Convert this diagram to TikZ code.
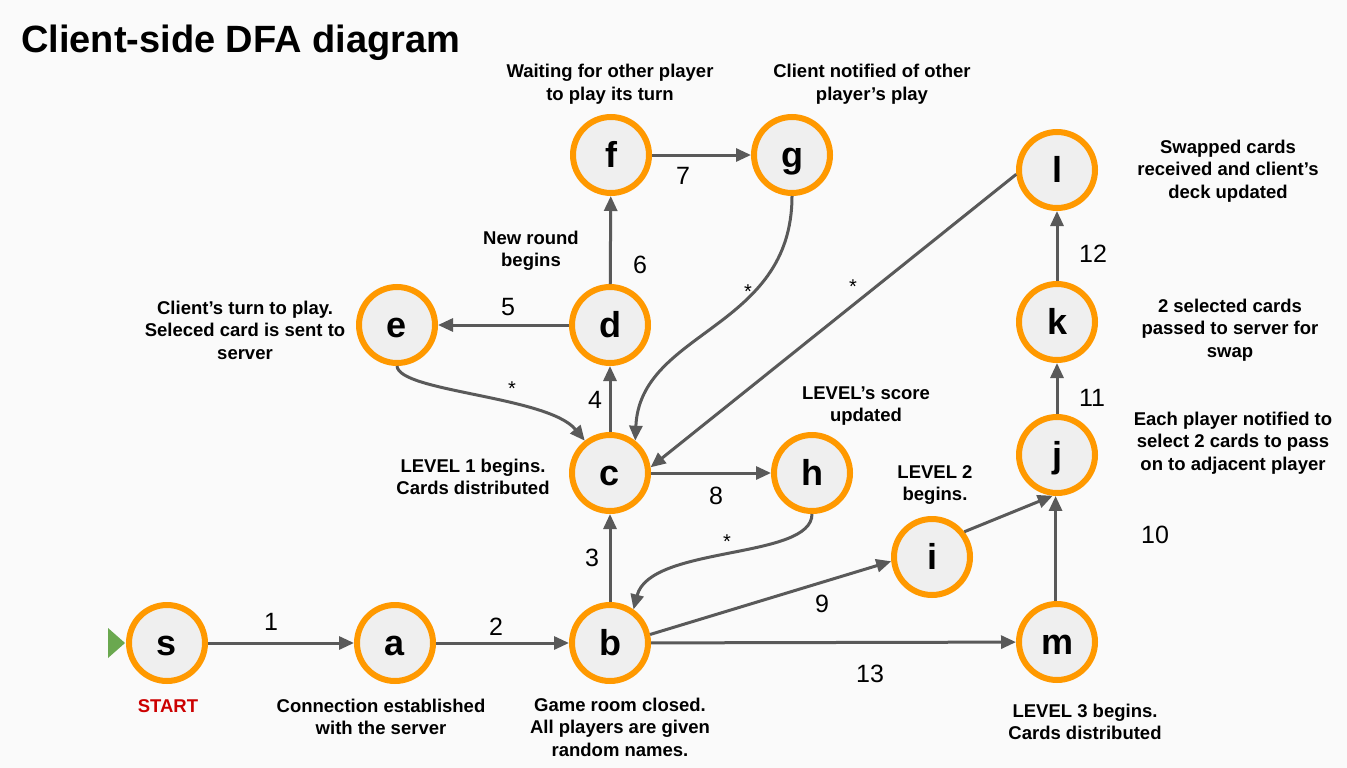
\documentclass[tikz,border=0pt]{standalone}
\usepackage{fontspec}
\setmainfont{Liberation Sans}
\usetikzlibrary{arrows.meta}
\definecolor{bgc}{HTML}{FAFAFA}
\definecolor{orng}{HTML}{FF9900}
\definecolor{nfill}{HTML}{EFEFEF}
\definecolor{edgec}{HTML}{595959}
\definecolor{startgreen}{HTML}{6AA84F}
\definecolor{startred}{HTML}{CC0000}
\begin{document}
\begin{tikzpicture}[x=1pt,y=1pt,
  state/.style={circle,draw=orng,fill=nfill,line width=6pt,minimum size=76pt,inner sep=0pt,
    text height=25pt,text depth=0pt,font=\fontsize{36}{36}\selectfont\bfseries},
  desc/.style={align=center,inner sep=0pt,font=\fontsize{18.5}{22.5}\selectfont\bfseries},
  num/.style={inner sep=0pt,font=\fontsize{25}{25}\selectfont},
  starlbl/.style={inner sep=0pt,font=\fontsize{20}{20}\selectfont},
  trans/.style={draw=edgec,line width=3pt,-{Triangle[length=15pt,width=13pt]}}]
\useasboundingbox (0,0) rectangle (1347,-768);
\fill[bgc] (0,0) rectangle (1347,-768);

\node[anchor=base west,inner sep=0pt,font=\fontsize{38}{38}\selectfont\bfseries] (title) at (21,-53) {Client-side DFA diagram};

% states
\node[state] (s) at (167,-643) {s};
\node[state] (a) at (395,-643) {a};
\node[state] (b) at (610,-643) {b};
\node[state] (c) at (610,-473) {c};
\node[state] (d) at (610,-325) {d};
\node[state] (e) at (397,-325) {e};
\node[state] (f) at (611,-155) {f};
\node[state] (g) at (792,-155) {g};
\node[state] (h) at (812,-473) {h};
\node[state] (i) at (932,-557) {i};
\node[state] (j) at (1057,-455) {j};
\node[state] (k) at (1057,-322) {k};
\node[state] (l) at (1057,-170) {l};
\node[state] (m) at (1057,-642) {m};

% start marker
\fill[startgreen] ([xshift=-1pt]s.west) -- ++(-17,15) -- ++(0,-30) -- cycle;

% descriptions
\node[desc,text=startred] (startlbl) at (168,-706) {START};
\node[desc] (da) at (381,-717) {Connection established\\with the server};
\node[desc] (db) at (620,-727) {Game room closed.\\All players are given\\random names.};
\node[desc] (dc) at (473,-477) {LEVEL 1 begins.\\Cards distributed};
\node[desc] (dd) at (531,-251) {New round\\begins};
\node[desc] (de) at (245,-330) {Client’s turn to play.\\Seleced card is sent to\\server};
\node[desc] (df) at (610,-84) {Waiting for other player\\to play its turn};
\node[desc] (dg) at (872,-84) {Client notified of other\\player’s play};
\node[desc] (dh) at (866,-406) {LEVEL’s score\\updated};
\node[desc] (di) at (935,-485) {LEVEL 2\\begins.};
\node[desc] (dj) at (1233,-443) {Each player notified to\\select 2 cards to pass\\on to adjacent player};
\node[desc] (dk) at (1230,-330) {2 selected cards\\passed to server for\\swap};
\node[desc] (dl) at (1228,-171) {Swapped cards\\received and client’s\\deck updated};
\node[desc] (dm) at (1085,-722) {LEVEL 3 begins.\\Cards distributed};

% transitions
\draw[trans] (s) -- (a);
\draw[trans] (a) -- (b);
\draw[trans] (b) -- (c);
\draw[trans] (c) -- (d);
\draw[trans] (d) -- (e);
\draw[trans] (d) -- (f);
\draw[trans] (f) -- (g);
\draw[trans] (c) -- (h);
\draw[trans] (b.12) -- (i.186);
\draw[trans] (i.38) -- (j.264);
\draw[trans] (m.92) -- (j.268);
\draw[trans] (j) -- (k);
\draw[trans] (k) -- (l);
\draw[trans] (b) -- (m);
\draw[trans] (l.186) -- (c.8);
\draw[trans] (e.south) .. controls (399,-392) and (548,-396) .. (c.128);
\draw[trans] (g.south) .. controls (792,-330) and (640,-330) .. (c.52);
\draw[trans] (h.south) .. controls (812,-560) and (650,-545) .. (b.55);

% labels
\node[num] (n1) at (271,-622) {1};
\node[num] (n2) at (496,-627) {2};
\node[num] (n3) at (592,-558) {3};
\node[num] (n4) at (595,-400) {4};
\node[num] (n5) at (508,-307) {5};
\node[num] (n6) at (640,-265) {6};
\node[num] (n7) at (683,-176) {7};
\node[num] (n8) at (716,-496) {8};
\node[num] (n9) at (822,-604) {9};
\node[num] (n10) at (1155,-535) {10};
\node[num] (n11) at (1092,-398) {11};
\node[num] (n12) at (1093,-254) {12};
\node[num] (n13) at (870,-674) {13};
\node[starlbl] (s1) at (748,-292) {*};
\node[starlbl] (s2) at (853,-287) {*};
\node[starlbl] (s3) at (512,-389) {*};
\node[starlbl] (s4) at (727,-542) {*};
\end{tikzpicture}
\end{document}
